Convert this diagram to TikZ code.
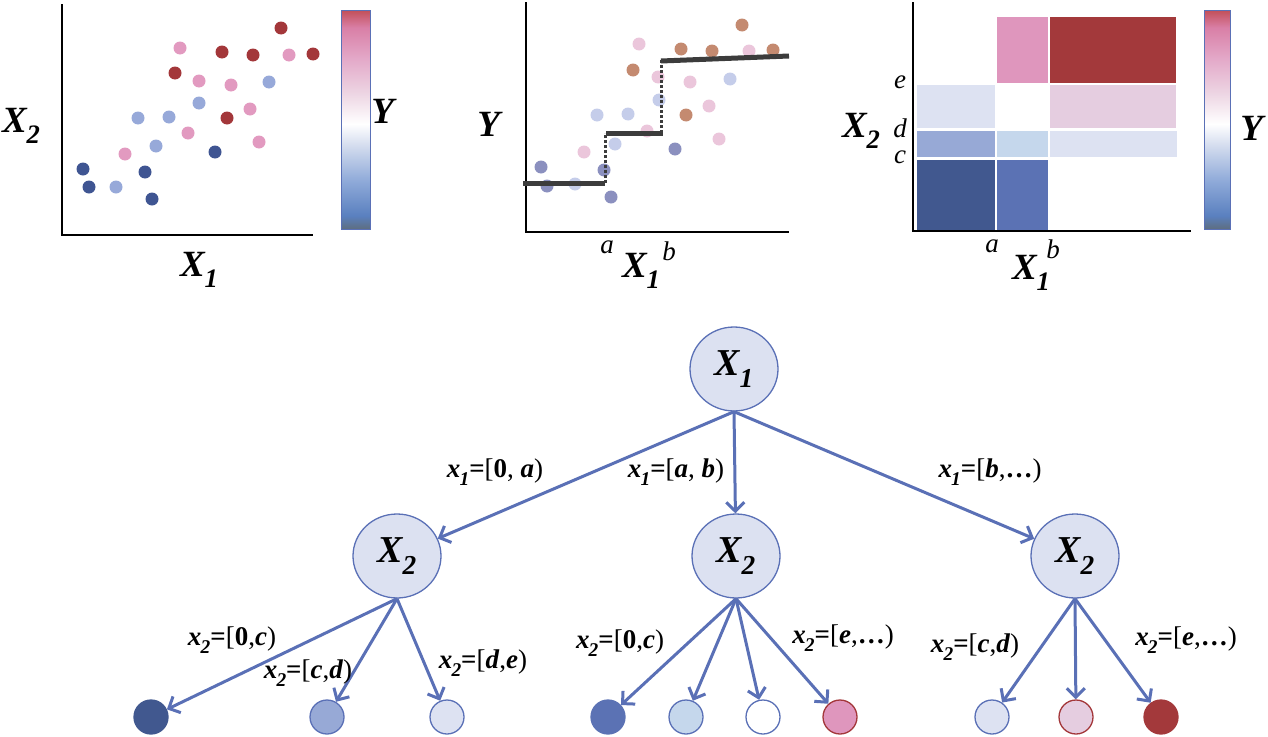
\documentclass[tikz,border=0pt]{standalone}
\usepackage{fontspec}
\setmainfont{Liberation Serif}
\usepackage{graphicx}
\usetikzlibrary{arrows.meta,shapes.geometric}
\definecolor{edgeblue}{HTML}{5A70B6}
\definecolor{nodefill}{HTML}{DCE1F1}
\definecolor{dred}{HTML}{A3373A}
\definecolor{pinkc}{HTML}{E29AC0}
\definecolor{lblue}{HTML}{97A9D9}
\definecolor{dblue}{HTML}{3F5592}
\definecolor{brownc}{HTML}{C48A70}
\definecolor{lpink}{HTML}{EBC6DB}
\definecolor{llblue}{HTML}{C5CDEA}
\definecolor{slatec}{HTML}{8B90BF}
\definecolor{stepc}{HTML}{3C3C3C}
\definecolor{cb0}{HTML}{5E6E80}
\definecolor{cb1}{HTML}{5A80BF}
\definecolor{cb2}{HTML}{8FAAD9}
\definecolor{cb3}{HTML}{D3DCEE}
\definecolor{cb5}{HTML}{EDD5E3}
\definecolor{cb6}{HTML}{E3A8C8}
\definecolor{cb7}{HTML}{D97FA6}
\definecolor{cb8}{HTML}{C24F58}
\definecolor{rPink}{HTML}{DF96BD}
\definecolor{rRed}{HTML}{A3393B}
\definecolor{rLight}{HTML}{DDE2F2}
\definecolor{rLPink}{HTML}{E5CDE0}
\definecolor{rMid}{HTML}{97A9D6}
\definecolor{rPale}{HTML}{C5D7EC}
\definecolor{rDark}{HTML}{41588F}
\definecolor{rBlue}{HTML}{5B72B4}
\pgfdeclareverticalshading{cbar}{100bp}{color(0bp)=(cb0); color(25bp)=(cb0); color(28bp)=(cb1); color(36bp)=(cb2); color(44bp)=(cb3); color(49bp)=(white); color(56bp)=(cb5); color(64bp)=(cb6); color(71bp)=(cb7); color(75bp)=(cb8); color(100bp)=(cb8)}
\newcommand\lsub[1]{\raisebox{-0.3em}{\scalebox{0.72}{#1}}}
\newcommand\bvar[2]{\textbf{\textit{#1}}\kern-0.03em\lsub{\textbf{\textit{#2}}}}
\newcommand\elab[3]{\bvar{x}{#1}\textbf{=}[#2#3)}
\tikzset{
  axisline/.style={line width=2pt,black},
  cbarbox/.style={draw=edgeblue,line width=1pt,shading=cbar},
  biglab/.style={font=\fontsize{37}{37}\selectfont,inner sep=0pt},
  smalllab/.style={font=\fontsize{27}{27}\selectfont\itshape,inner sep=0pt},
  edgelab/.style={font=\fontsize{27}{27}\selectfont,inner sep=0pt},
  tnode/.style={ellipse,minimum width=88pt,minimum height=84pt,inner sep=0pt,fill=nodefill,draw=edgeblue,line width=1.3pt,font=\fontsize{38}{38}\selectfont},
  leaf/.style={circle,minimum size=34pt,inner sep=0pt,line width=1.3pt},
  edge/.style={draw=edgeblue,line width=3pt,-{Straight Barb[length=9pt,width=18pt]}},
  stepline/.style={stepc,line width=5pt},
  stepdot/.style={stepc,line width=3pt,dotted},
  cell/.style={line width=0pt}
}
\begin{document}
\begin{tikzpicture}[x=1pt,y=-1pt]
\useasboundingbox (0,0) rectangle (1268,736);
% ---------- Panel 1 ----------
\draw[axisline] (62,4) -- (62,235) -- (313,235);
\foreach \p in {(281,28),(222,52),(253,55),(313,54),(175,73),(227,118)} \fill[dred] \p circle[radius=6.5pt];
\foreach \p in {(180,48),(289,55),(199,81),(231,85),(250,109),(188,133),(259,142),(125,154)} \fill[pinkc] \p circle[radius=6.5pt];
\foreach \p in {(269,82),(199,103),(138,118),(169,117),(156,146),(116,187)} \fill[lblue] \p circle[radius=6.5pt];
\foreach \p in {(83,169),(89,187),(145,172),(152,199),(215,152)} \fill[dblue] \p circle[radius=6.5pt];
\path[cbarbox] (341,10) rectangle (370,229);
\node[biglab] (p1x2) at (21,126) {\bvar{X}{2}};
\node[biglab] (p1x1) at (199,270) {\bvar{X}{1}};
\node[biglab] (p1y) at (384,111) {\textbf{\textit{Y}}};
% ---------- Panel 2 ----------
\draw[axisline] (526,2) -- (526,232) -- (789,232);
\foreach \p in {(742,25),(681,49),(712,51),(773,50),(633,70),(686,115)} \fill[brownc] \p circle[radius=6.5pt];
\foreach \p in {(639,44),(749,51),(658,77),(690,82),(709,106),(647,131),(719,139),(584,152)} \fill[lpink] \p circle[radius=6.5pt];
\foreach \p in {(730,79),(659,100),(597,115),(628,114),(615,144),(575,184)} \fill[llblue] \p circle[radius=6.5pt];
\foreach \p in {(541,167),(547,186),(604,170),(611,197),(675,149)} \fill[slatec] \p circle[radius=6.5pt];
\draw[stepline] (523,183) -- (605,183);
\draw[stepdot] (605,183) -- (605,133);
\draw[stepline] (606,133) -- (663,133);
\draw[stepdot] (661,133) -- (661,60);
\draw[stepline] (661,61) -- (789,56);
\node[biglab] (p2y) at (490,124) {\textbf{\textit{Y}}};
\node[smalllab] (p2a) at (607,247) {a};
\node[smalllab] (p2b) at (669,251) {b};
\node[biglab] (p2x1) at (641,271) {\bvar{X}{1}};
% ---------- Panel 3 ----------
\fill[rPink] (997,17) rectangle (1048,83);
\fill[rRed] (1050,17) rectangle (1176,83);
\fill[rLight] (917,85) rectangle (995,128);
\fill[rLPink] (1050,85) rectangle (1176,128);
\fill[rMid] (917,131) rectangle (995,157);
\fill[rPale] (997,131) rectangle (1048,157);
\fill[rLight] (1050,131) rectangle (1177,157);
\fill[rDark] (917,160) rectangle (995,231);
\fill[rBlue] (997,160) rectangle (1048,231);
\draw[axisline] (913,2) -- (913,231) -- (1191,231);
\path[cbarbox] (1204,10) rectangle (1230,229);
\node[smalllab] (p3e) at (900,82) {e};
\node[smalllab] (p3d) at (900,128) {d};
\node[smalllab] (p3c) at (900,157) {c};
\node[biglab] (p3x2) at (861,131) {\bvar{X}{2}};
\node[smalllab] (p3a) at (992,246) {a};
\node[smalllab] (p3b) at (1053,249) {b};
\node[biglab] (p3x1) at (1031,273) {\bvar{X}{1}};
\node[biglab] (p3y) at (1253,128) {\textbf{\textit{Y}}};
% ---------- Tree ----------
\node[tnode] (r) at (734,369) {\bvar{X}{1}};
\node[tnode] (c1) at (397,556) {\bvar{X}{2}};
\node[tnode] (c2) at (736,556) {\bvar{X}{2}};
\node[tnode] (c3) at (1075,556) {\bvar{X}{2}};
\node[leaf,fill=rDark,draw=rDark] (l1) at (151,717) {};
\node[leaf,fill=rMid,draw=edgeblue] (l2) at (327,717) {};
\node[leaf,fill=rLight,draw=edgeblue] (l3) at (447,717) {};
\node[leaf,fill=rBlue,draw=rBlue] (m1) at (608,717) {};
\node[leaf,fill=rPale,draw=edgeblue] (m2) at (686,717) {};
\node[leaf,fill=white,draw=edgeblue] (m3) at (763,717) {};
\node[leaf,fill=rPink,draw=dred] (m4) at (840,717) {};
\node[leaf,fill=rLight,draw=edgeblue] (q1) at (992,717) {};
\node[leaf,fill=rLPink,draw=dred] (q2) at (1076,717) {};
\node[leaf,fill=rRed,draw=rRed] (q3) at (1161,717) {};
\draw[edge] (r.south) -- (c1);
\draw[edge] (r.south) -- (c2);
\draw[edge] (r.south) -- (c3);
\draw[edge] (c1.south) -- (l1);
\draw[edge] (c1.south) -- (l2);
\draw[edge] (c1.south) -- (l3);
\draw[edge] (c2.south) -- (m1);
\draw[edge] (c2.south) -- (m2);
\draw[edge] (c2.south) -- (m3);
\draw[edge] (c2.south) -- (m4);
\draw[edge] (c3.south) -- (q1);
\draw[edge] (c3.south) -- (q2);
\draw[edge] (c3.south) -- (q3);
\node[edgelab] (e1) at (495,472) {\elab{1}{\textbf{0}, }{\textbf{\textit{a}}}};
\node[edgelab] (e2) at (676,472) {\elab{1}{\textbf{\textit{a}}, }{\textbf{\textit{b}}}};
\node[edgelab] (e3) at (990,472) {\elab{1}{\textbf{\textit{b}},}{\textbf{…}}};
\node[edgelab] (f1) at (232,640) {\elab{2}{\textbf{0},}{\textbf{\textit{c}}}};
\node[edgelab] (f2) at (308,673) {\elab{2}{\textbf{\textit{c}},}{\textbf{\textit{d}}}};
\node[edgelab] (f3) at (483,663) {\elab{2}{\textbf{\textit{d}},}{\textbf{\textit{e}}}};
\node[edgelab] (g1) at (620,643) {\elab{2}{\textbf{0},}{\textbf{\textit{c}}}};
\node[edgelab] (g4) at (843,638) {\elab{2}{\textbf{\textit{e}},}{\textbf{…}}};
\node[edgelab] (h1) at (975,647) {\elab{2}{\textbf{\textit{c}},}{\textbf{\textit{d}}}};
\node[edgelab] (h3) at (1186,640) {\elab{2}{\textbf{\textit{e}},}{\textbf{…}}};
\end{tikzpicture}
\end{document}
